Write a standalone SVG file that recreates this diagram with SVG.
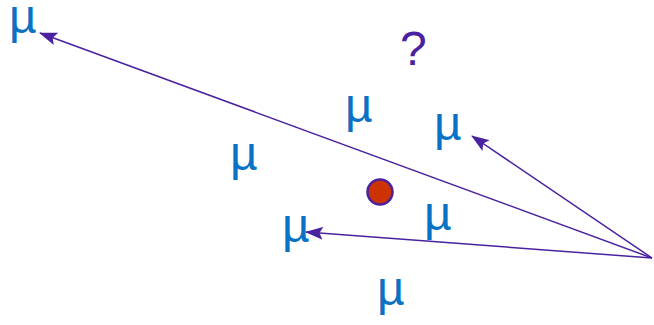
<svg xmlns="http://www.w3.org/2000/svg" width="654" height="325" viewBox="0 0 654 325">
<style>
.mu{font-family:"Liberation Sans",Arial,sans-serif;font-size:48px;fill:#0A72C4}
.q{font-family:"Liberation Sans",Arial,sans-serif;font-size:48px;fill:#4A22A0}
.ln{stroke:#4A22A0;stroke-width:1.5;fill:none}
</style>
<defs>
<marker id="ah" viewBox="0 0 18 13" refX="17" refY="6.5" markerWidth="18" markerHeight="13" markerUnits="userSpaceOnUse" orient="auto">
<path d="M0,0 L18,6.5 L0,13 L3.5,6.5 Z" fill="#4A22A0"/>
</marker>
</defs>
<g id="connectors">
<line class="ln" x1="652" y1="258" x2="40" y2="33" marker-end="url(#ah)"/>
<line class="ln" x1="652" y1="258" x2="472" y2="136" marker-end="url(#ah)"/>
<line class="ln" x1="652" y1="258" x2="306" y2="232" marker-end="url(#ah)"/>
</g>
<g id="mu1"><text class="mu" x="9" y="33">µ</text></g>
<g id="mu2"><text class="mu" x="345" y="122">µ</text></g>
<g id="mu3"><text class="mu" x="434" y="140">µ</text></g>
<g id="mu4"><text class="mu" x="230" y="170">µ</text></g>
<g id="mu5"><text class="mu" x="282" y="242">µ</text></g>
<g id="mu6"><text class="mu" x="424" y="230">µ</text></g>
<g id="mu7"><text class="mu" x="377" y="305">µ</text></g>
<g id="question"><text class="q" x="400" y="65">?</text></g>
<g id="dot"><circle cx="380" cy="192" r="12.5" fill="#CC3300" stroke="#4A22A0" stroke-width="2.5"/></g>
</svg>
